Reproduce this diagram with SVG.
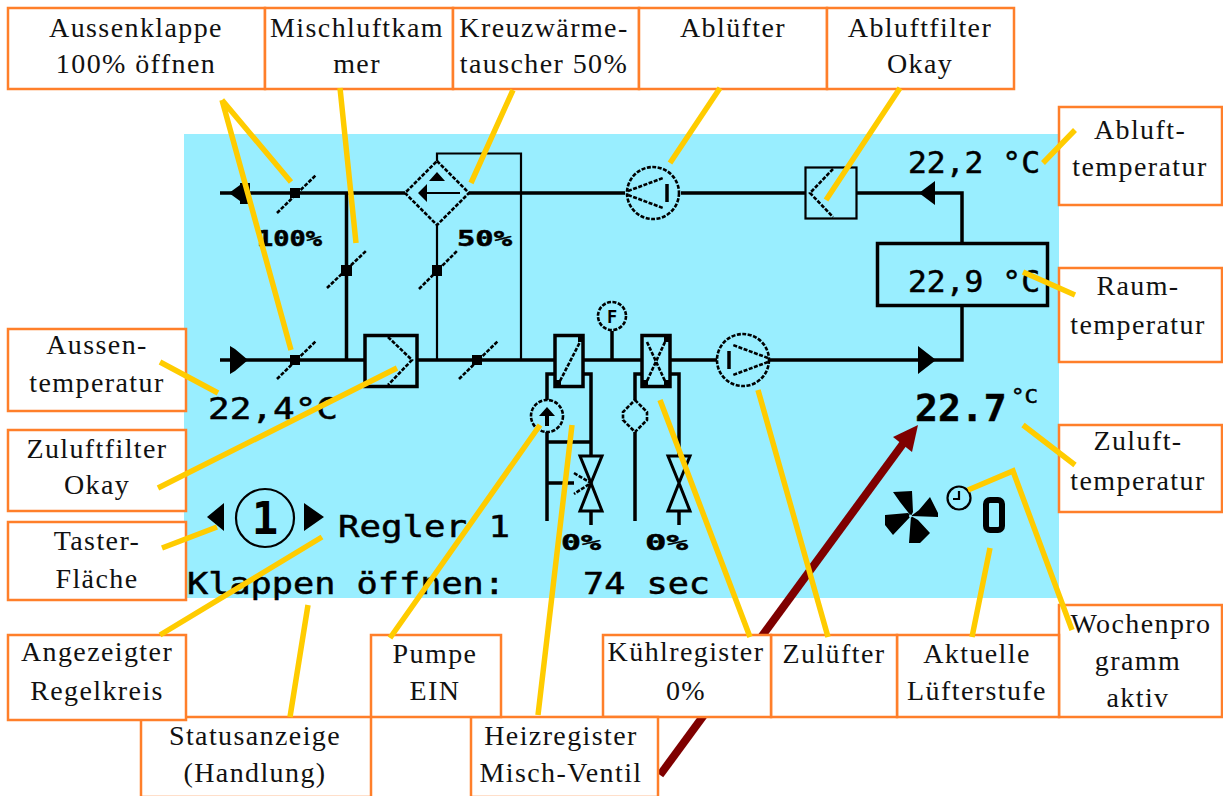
<svg xmlns="http://www.w3.org/2000/svg" width="1223" height="796" viewBox="0 0 1223 796">
<style>
.box{fill:#fff;stroke:#ff7f2a;stroke-width:2.5}
.lb{font-family:"Liberation Serif",serif;font-size:28px;fill:#111;text-anchor:middle;letter-spacing:1.4px}
.lcd{font-family:"DejaVu Sans Mono","Liberation Mono",monospace;font-size:30px;fill:#000;stroke:#000;stroke-width:.5}
.y{stroke:#fc0;stroke-width:5.500;fill:none;stroke-linecap:butt;stroke-linejoin:miter}
.k3{stroke:#000;stroke-width:3.500;fill:none}
.k2{stroke:#000;stroke-width:2.200;fill:none}
.d{stroke:#000;stroke-width:2.600;fill:none;stroke-dasharray:4 1.500}
.f{fill:#000}
</style>
<rect width="1223" height="796" fill="#fff"/>
<g id="panel"><rect x="184" y="134" width="875" height="464" fill="#99eeff"/></g>
<g id="schema">
<path class="k3" d="M220 193H405M469 193H625M681 193H805M857 193H962V243M346.500 193V360M220 360H364M417 360H555M583 360H642M670 360H717M769 360H962V306"/>
<path class="k2" d="M437 225V360M437 161V153.500H521V360"/>
<rect class="k3" x="877.500" y="243.500" width="170" height="62"/>
<path class="f" d="M229 193L240 185V183H250V204H240V201ZM230 346L235 349L248 360L235 371L230 374ZM919 193L935 181V205ZM918 346L936 360L918 374Z"/>
<g id="dampers">
<path class="d" d="M277 213L316 175M327 288L366 251M419 289L457 251M277 379L316 341M459 379L498 341"/>
<path class="f" d="M290 188h10v10h-10zM341 265h11v11h-11zM432 265h10v11h-10zM290 355h10v10h-10zM472 355h10v10h-10z"/>
</g>
<g id="exchanger">
<path class="d" d="M437 161L469 193L437 225L405 193Z"/>
<path class="f" d="M429 181L437 172L445 181ZM418 193L427 184V202Z"/>
<path class="k2" d="M427 193H460"/>
</g>
<g id="filter-in"><rect class="k3" x="365" y="335.500" width="52" height="51"/><path class="d" d="M388 337L412 360L388 385"/></g>
<g id="filter-out"><rect class="k2" x="805.500" y="167.500" width="51" height="51"/><path class="d" d="M833 169L810 193L833 217"/></g>
<g id="fan-out"><circle class="d" cx="653" cy="193" r="26"/><path class="d" d="M628 191L663 178M628 195L663 208"/><path class="k3" d="M667 184V202"/></g>
<g id="fan-in"><circle class="d" cx="743" cy="360" r="26"/><path class="d" d="M768 358L733 345M768 362L733 375"/><path class="k3" d="M729 351V369"/></g>
<g id="heater"><rect class="k3" x="555" y="335.500" width="28" height="51"/><path class="d" d="M560 381L580 342"/><path class="f" d="M555 380h6v8h-6zM578 336h6v6h-6z"/></g>
<g id="cooler"><rect class="k3" x="642" y="335.500" width="28" height="51"/><path class="d" d="M647 342L665 381M665 342L647 381"/><path class="f" d="M642 380h6v8h-6zM664 380h6v8h-6zM664 336h6v6h-6z"/></g>
<g id="flow-sensor"><circle class="d" cx="612" cy="316" r="14"/><path class="k3" d="M612 331V360"/><text x="612" y="323" font-family="DejaVu Sans Mono,monospace" font-size="17" font-weight="700" text-anchor="middle">F</text></g>
<g id="pipes">
<path class="k3" d="M555 374H547V400M547 432V521M583 374H591V455M547 442H591M547 483H574M591 512V525M642 374H635V400M635 432V521M670 374H679V455M679 512V525"/>
<circle class="d" cx="547" cy="416" r="16"/><path class="f" d="M539 416L547 407L555 416H549V426H545V416Z"/>
<path class="d" d="M635 400L647 412V420L635 432L623 420V412Z"/>
<path class="d" d="M580 456H602L591 483L602 511H580L591 483ZM668 456H690L679 483L690 511H668L679 483Z" style="stroke-width:3;stroke-dasharray:none"/>
<path class="d" d="M574 473L591 483L574 494"/>
</g>
</g>
<g id="lcd-texts">
<text class="lcd" x="908" y="173" textLength="132" lengthAdjust="spacingAndGlyphs">22,2 °C</text>
<text class="lcd" x="908" y="292" textLength="132" lengthAdjust="spacingAndGlyphs">22,9 °C</text>
<text class="lcd" x="208" y="419" textLength="130" lengthAdjust="spacingAndGlyphs">22,4°C</text>
<text class="lcd" x="915" y="421" style="font-size:38px;font-weight:700">22.7</text>
<text class="lcd" x="1011" y="403" style="font-size:20px" textLength="27" lengthAdjust="spacingAndGlyphs">°C</text>
<text class="lcd" x="338" y="537" textLength="172" lengthAdjust="spacingAndGlyphs">Regler 1</text>
<text class="lcd" x="187" y="594" textLength="318" lengthAdjust="spacingAndGlyphs">Klappen öffnen:</text>
<text class="lcd" x="583" y="594" textLength="127" lengthAdjust="spacingAndGlyphs">74 sec</text>
<text class="lcd" x="257" y="246" style="font-size:21px;font-weight:700" textLength="65" lengthAdjust="spacingAndGlyphs">100%</text>
<text class="lcd" x="457" y="246" style="font-size:21px;font-weight:700" textLength="55" lengthAdjust="spacingAndGlyphs">50%</text>
<text class="lcd" x="561" y="550" style="font-size:21px;font-weight:700" textLength="40" lengthAdjust="spacingAndGlyphs">0%</text>
<text class="lcd" x="645" y="550" style="font-size:21px;font-weight:700" textLength="43" lengthAdjust="spacingAndGlyphs">0%</text>
</g>
<g id="taster-symbol">
<path class="f" d="M207 517L224 503V531ZM304 503L324 517L304 531Z"/>
<circle class="k2" cx="265" cy="518" r="29"/>
<text x="265" y="534" font-family="DejaVu Sans Mono,monospace" style="font-size:44px;font-weight:700" text-anchor="middle">1</text>
</g>
<g id="fan-status">
<path class="f" d="M893 492L912 491L913 512L911 516L900 502ZM930 497L938 513V517L911 516L919 510ZM911 516L918 520L930 533L920 543H909ZM885 515L908 513L911 516L893 535L885 525Z"/>
<circle cx="910.500" cy="516" r="1.500" fill="#99eeff"/>
<circle class="k2" cx="959" cy="498" r="11.500"/><path class="k2" d="M959 491V499H953"/>
<rect x="986" y="500" width="16" height="30" rx="4" fill="none" stroke="#000" stroke-width="6"/>
</g>
<g id="connectors-red"><path d="M660 775L905 441" stroke="#7f0000" stroke-width="8" fill="none"/><path d="M918 425L893 437L912 452Z" fill="#7f0000"/></g>
<g id="node-aussenklappe"><rect class="box" x="8" y="8" width="257" height="81"/><text class="lb" x="136" y="37">Aussenklappe</text><text class="lb" x="136" y="73">100% öffnen</text></g>
<g id="node-mischluft"><rect class="box" x="265" y="8" width="188" height="81"/><text class="lb" x="357" y="37">Mischluftkam</text><text class="lb" x="357" y="73">mer</text></g>
<g id="node-kreuz"><rect class="box" x="453" y="8" width="186" height="81"/><text class="lb" x="544" y="37">Kreuzwärme-</text><text class="lb" x="544" y="73">tauscher 50%</text></g>
<g id="node-abluefter"><rect class="box" x="639" y="8" width="188" height="81"/><text class="lb" x="733" y="37">Ablüfter</text></g>
<g id="node-abluftfilter"><rect class="box" x="827" y="8" width="187" height="81"/><text class="lb" x="920" y="37">Abluftfilter</text><text class="lb" x="920" y="73">Okay</text></g>
<g id="node-ablufttemp"><rect class="box" x="1059" y="107" width="163" height="98"/><text class="lb" x="1140" y="139">Abluft-</text><text class="lb" x="1140" y="176">temperatur</text></g>
<g id="node-raumtemp"><rect class="box" x="1059" y="268" width="163" height="94"/><text class="lb" x="1138" y="295">Raum-</text><text class="lb" x="1138" y="334">temperatur</text></g>
<g id="node-zulufttemp"><rect class="box" x="1059" y="425" width="163" height="87"/><text class="lb" x="1138" y="450">Zuluft-</text><text class="lb" x="1138" y="490">temperatur</text></g>
<g id="node-wochen"><rect class="box" x="1059" y="605" width="163" height="112"/><text class="lb" x="1141" y="633">Wochenpro</text><text class="lb" x="1138" y="670">gramm</text><text class="lb" x="1138" y="707">aktiv</text></g>
<g id="node-aktuelle"><rect class="box" x="897" y="635" width="162" height="82"/><text class="lb" x="977" y="663">Aktuelle</text><text class="lb" x="977" y="700">Lüfterstufe</text></g>
<g id="node-zulufter"><rect class="box" x="771" y="635" width="126" height="82"/><text class="lb" x="834" y="663">Zulüfter</text></g>
<g id="node-kuehl"><rect class="box" x="603" y="635" width="168" height="82"/><text class="lb" x="686" y="661">Kühlregister</text><text class="lb" x="686" y="700">0%</text></g>
<g id="node-heiz"><rect class="box" x="471" y="717" width="187" height="80"/><text class="lb" x="561" y="745">Heizregister</text><text class="lb" x="561" y="782">Misch-Ventil</text></g>
<g id="node-pumpe"><rect class="box" x="371" y="635" width="130" height="82"/><text class="lb" x="435" y="663">Pumpe</text><text class="lb" x="435" y="700">EIN</text></g>
<g id="node-status"><rect class="box" x="141" y="717" width="230" height="80"/><text class="lb" x="255" y="745">Statusanzeige</text><text class="lb" x="255" y="782">(Handlung)</text></g>
<g id="node-regelkreis"><rect class="box" x="8" y="635" width="178" height="85"/><text class="lb" x="97" y="661">Angezeigter</text><text class="lb" x="97" y="700">Regelkreis</text></g>
<g id="node-taster"><rect class="box" x="8" y="522" width="178" height="78"/><text class="lb" x="97" y="550">Taster-</text><text class="lb" x="97" y="588">Fläche</text></g>
<g id="node-zuluftfilter"><rect class="box" x="8" y="430" width="178" height="81"/><text class="lb" x="97" y="458">Zuluftfilter</text><text class="lb" x="97" y="494">Okay</text></g>
<g id="node-aussentemp"><rect class="box" x="8" y="329" width="178" height="82"/><text class="lb" x="97" y="354">Aussen-</text><text class="lb" x="97" y="392">temperatur</text></g>
<g id="connectors">
<path class="y" d="M222 100L291 182M222 100L291 350M340 88L356 243M513 90L471 183M720 88L670 163M900 88L826 200M1075 130L1043 163M1075 295L1023 272M1075 465L1023 425M968 490L1013 471L1072 630M972 637L990 548M828 637L758 390M750 637L660 400M538 715L572 425M390 638L540 425M290 717L308 605M160 635L322 537M162 548L217 527M158 488L397 368M160 362L218 393"/>
</g>
</svg>
